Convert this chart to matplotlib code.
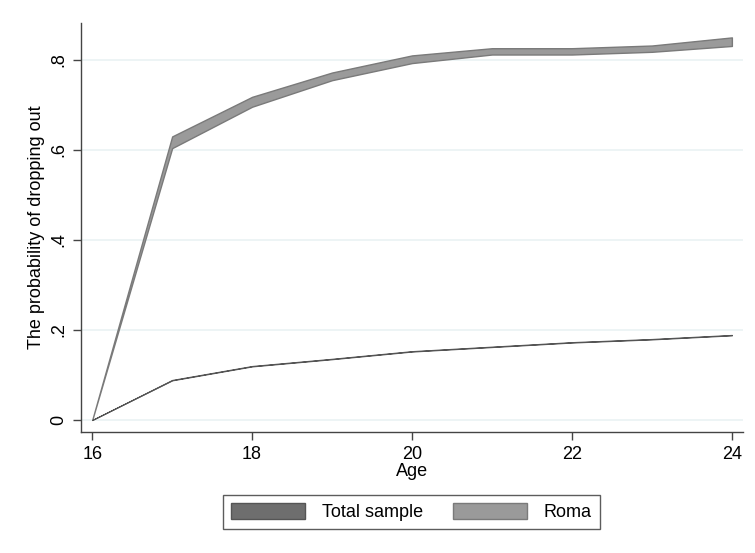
import matplotlib
matplotlib.use("Agg")
import matplotlib.pyplot as plt
from matplotlib.patches import Patch

plt.rcParams["font.family"] = ["Liberation Sans", "DejaVu Sans"]

age = [16, 17, 18, 19, 20, 21, 22, 23, 24]

# Total sample: narrow confidence band
total_lo = [0.0, 0.088, 0.119, 0.135, 0.152, 0.162, 0.172, 0.179, 0.188]
total_hi = [0.0, 0.089, 0.120, 0.136, 0.153, 0.163, 0.173, 0.180, 0.189]

# Roma subsample
roma_lo = [0.0, 0.604, 0.696, 0.755, 0.793, 0.812, 0.812, 0.818, 0.831]
roma_hi = [0.0, 0.630, 0.718, 0.772, 0.810, 0.826, 0.826, 0.832, 0.850]

yticks = [0, 0.2, 0.4, 0.6, 0.8]
ytick_labels = ["0", ".2", ".4", ".6", ".8"]
xticks = [16, 18, 20, 22, 24]

c_total, e_total = "#6e6e6e", "#555555"
c_roma, e_roma = "#9a9a9a", "#7a7a7a"

fig = plt.figure(figsize=(7.55, 5.53), dpi=100)
ax = fig.add_axes([0.1073, 0.2188, 0.8769, 0.7396])

ax.fill_between(age, roma_lo, roma_hi, facecolor=c_roma, edgecolor=e_roma, linewidth=1.0)
ax.fill_between(age, total_lo, total_hi, facecolor=c_total, edgecolor=e_total, linewidth=0.8)

ax.set_xlim(15.86, 24.14)
ax.set_ylim(-0.0267, 0.882)
ax.set_xticks(xticks)
ax.set_yticks(yticks)
ax.set_yticklabels(ytick_labels, rotation=90, va="center")
ax.grid(axis="y", color="#eaf2f3", linewidth=1.2)
ax.set_axisbelow(True)

for side in ["top", "right"]:
    ax.spines[side].set_visible(False)
for side in ["left", "bottom"]:
    ax.spines[side].set_color("#444444")
    ax.spines[side].set_linewidth(1.0)
ax.tick_params(direction="out", length=6, width=1, color="#444444", labelsize=13, pad=4)

ax.set_xlabel("Age", fontsize=13, labelpad=0)
ax.set_ylabel("The probability of dropping out", fontsize=13, labelpad=4)

handles = [
    Patch(facecolor=c_total, edgecolor=e_total, label="Total sample"),
    Patch(facecolor=c_roma, edgecolor=e_roma, label="Roma"),
]
leg = fig.legend(handles=handles, loc="center", bbox_to_anchor=(411.5 / 755, 1 - 512 / 553),
                 ncol=2, fontsize=13, frameon=True, fancybox=False, handlelength=4.1,
                 handleheight=1.0, columnspacing=1.7, borderpad=0.45, handletextpad=0.9)
leg.get_frame().set_edgecolor("#333333")
leg.get_frame().set_linewidth(1.0)

fig.savefig("out.png", dpi=100)
